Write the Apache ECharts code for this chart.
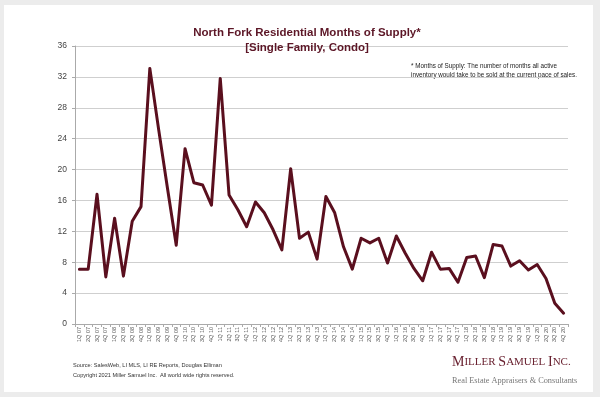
<!DOCTYPE html>
<html><head><meta charset="utf-8">
<script src="https://cdn.jsdelivr.net/npm/echarts@6/dist/echarts.min.js"></script>
<style>html,body{margin:0;padding:0;background:#ececec;}#c{width:600px;height:397px;}</style>
</head><body><div id="c"></div>
<script>
const years = ['07','08','09','10','11','12','13','14','15','16','17','18','19','20'];
const categories = [];
years.forEach(y => { for (let q = 1; q <= 4; q++) categories.push(q + 'Q ' + y); });
const monthsOfSupply = [
  7.1, 7.1, 16.8, 6.1,
  13.7, 6.2, 13.3, 15.2,
  33.1, 25.2, 17.6, 10.2,
  22.7, 18.3, 18.0, 15.4,
  31.8, 16.7, 14.8, 12.6,
  15.8, 14.4, 12.2, 9.6,
  20.1, 11.1, 11.9, 8.4,
  16.5, 14.4, 10.0, 7.1,
  11.1, 10.5, 11.1, 7.9,
  11.4, 9.2, 7.2, 5.6,
  9.3, 7.1, 7.2, 5.4,
  8.6, 8.8, 6.0, 10.3,
  10.1, 7.5, 8.2, 7.0,
  7.7, 5.9, 2.7, 1.4
];
const yTicks = [0, 4, 8, 12, 16, 20, 24, 28, 32, 36];

const chart = echarts.init(document.getElementById('c'), null, {renderer: 'canvas'});
const maroon = '#5a0f1e';
chart.setOption({
  backgroundColor: '#ececec',
  animation: false,
  title: {
    text: 'North Fork Residential Months of Supply*\n[Single Family, Condo]',
    left: 302, top: 20, textAlign: 'center',
    textStyle: {fontFamily: 'Liberation Sans', fontSize: 11.5, fontWeight: 'bold', color: '#5c1626', lineHeight: 15}
  },
  grid: {left: 75, right: 32, top: 46, bottom: 73, containLabel: false},
  xAxis: {
    type: 'category', data: categories, boundaryGap: true,
    axisLine: {lineStyle: {color: '#aaaaaa', width: 1}},
    axisTick: {show: true, interval: 0, length: 3, lineStyle: {color: '#aaaaaa'}},
    axisLabel: {interval: 0, rotate: 90, fontFamily: 'Liberation Sans', fontSize: 5.5, color: '#555', margin: 3}
  },
  yAxis: {
    type: 'value', min: 0, max: 36, interval: 4,
    axisLine: {show: true, lineStyle: {color: '#aaaaaa'}},
    axisTick: {show: true, length: 3, lineStyle: {color: '#aaaaaa'}},
    splitLine: {lineStyle: {color: '#cfcfcf', width: 1}},
    axisLabel: {fontFamily: 'Liberation Sans', fontSize: 8.5, color: '#444', margin: 8,
      formatter: v => yTicks.includes(v) ? String(v) : ''}
  },
  series: [{
    type: 'line', data: monthsOfSupply, symbol: 'none',
    lineStyle: {color: maroon, width: 3, join: 'round', cap: 'round'}
  }],
  graphic: [
    {type: 'rect', z: -10, shape: {x: 4, y: 5, width: 589, height: 387}, style: {fill: '#ffffff'}, silent: true},
    {type: 'text', left: 411, top: 62, style: {
      text: '* Months of Supply: The number of months all active\ninventory would take to be sold at the current pace of sales.',
      fontFamily: 'Liberation Sans', fontSize: 6.3, fill: '#222', lineHeight: 9}},
    {type: 'text', left: 73, top: 360, style: {
      text: 'Source: SalesWeb, LI MLS, LI RE Reports, Douglas Elliman\nCopyright 2021 Miller Samuel Inc.  All world wide rights reserved.',
      fontFamily: 'Liberation Sans', fontSize: 5.6, fill: '#333', lineHeight: 10}},
    {type: 'text', left: 452, top: 355, style: {
      text: '{b|M}{s|ILLER }{b|S}{s|AMUEL }{b|I}{s|NC.}',
      rich: {
        b: {fontFamily: 'Liberation Serif', fontSize: 14, fill: '#6a2231'},
        s: {fontFamily: 'Liberation Serif', fontSize: 11, fill: '#6a2231'}
      }}},
    {type: 'text', left: 452, top: 377, style: {
      text: 'Real Estate Appraisers & Consultants',
      fontFamily: 'Liberation Serif', fontSize: 8.3, fill: '#777'}}
  ]
});
</script></body></html>
